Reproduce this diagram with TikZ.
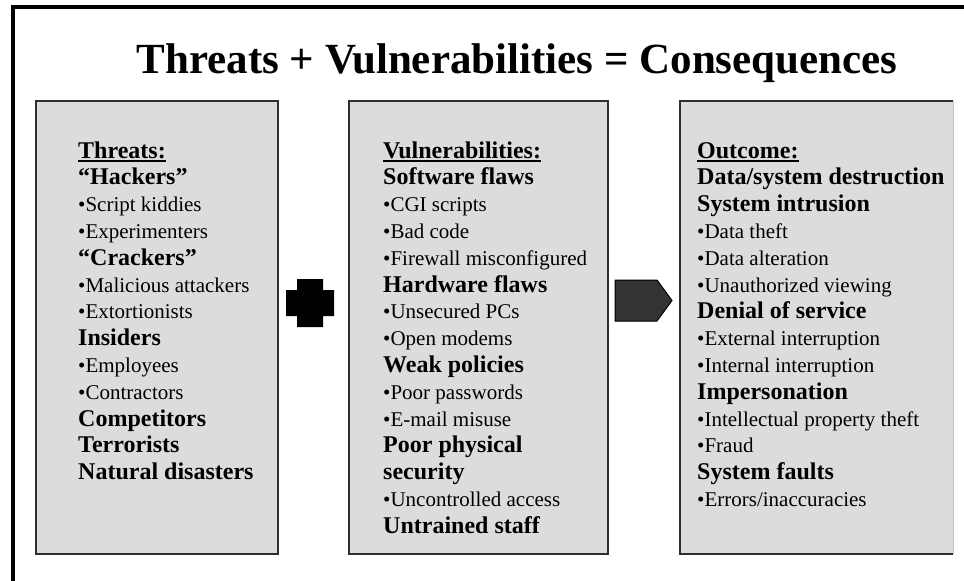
\documentclass[tikz,border=0pt]{standalone}
\usepackage{fontspec}
\setmainfont{Liberation Serif}
\definecolor{panelgray}{HTML}{DCDCDC}
\definecolor{borderdark}{HTML}{2E2E2E}
\definecolor{arrowfill}{HTML}{333333}
\begin{document}
\begin{tikzpicture}[x=1pt,y=-1pt,
  panel/.style={fill=panelgray, draw=borderdark, line width=2pt, inner sep=0pt, outer sep=0pt, anchor=north west},
  hd/.style={anchor=base west, inner sep=0pt, font=\fontsize{24}{26}\selectfont\bfseries},
  it/.style={anchor=base west, inner sep=0pt, font=\fontsize{21}{24}\selectfont},
  uline/.style={line width=2pt, black},
  titlefont/.style={anchor=base, inner sep=0pt, font=\fontsize{43}{50}\selectfont\bfseries}]
\useasboundingbox (0,0) rectangle (964,581);
\fill[white] (0,0) rectangle (964,581);
% outer frame (top and left only)
\draw[line width=4pt, black, line join=miter] (964,7) -- (12.7,7) -- (12.7,581);
% title
\node[titlefont] (title) at (517,73) {Threats + Vulnerabilities = Consequences};
% panels
\node[panel, minimum width=242pt, minimum height=453pt] (p1) at (36,101) {};
\node[panel, minimum width=259pt, minimum height=453pt] (p2) at (349,101) {};
\node[panel, draw=none, minimum width=273pt, minimum height=453pt] (p3) at (680,101) {};
\draw[borderdark, line width=2pt] (p3.north east) -- (p3.north west) -- (p3.south west) -- (p3.south east);
\draw[gray!45, line width=1pt] (p3.north east) -- (p3.south east);
% plus sign
\fill[black] (286,290) -- (297,290) -- (297,279) -- (323,279) -- (323,290) -- (334,290)
  -- (334,316) -- (323,316) -- (323,327) -- (297,327) -- (297,316) -- (286,316) -- cycle;
% pentagon arrow
\draw[fill=arrowfill, draw=black, line width=1pt] (615,280) -- (657,280) -- (672,300.5) -- (657,321) -- (615,321) -- cycle;
% column 1
\node[hd] (a1) at (78,158) {Threats:};
\draw[uline] ([yshift=-2.5pt]a1.base west) -- ([yshift=-2.5pt]a1.base east);
\node[hd] (a2) at (78,184.8) {“Hackers”};
\node[it] (a3) at (78,211.6) {•Script kiddies};
\node[it] (a4) at (78,238.4) {•Experimenters};
\node[hd] (a5) at (78,265.2) {“Crackers”};
\node[it] (a6) at (78,292) {•Malicious attackers};
\node[it] (a7) at (78,318.8) {•Extortionists};
\node[hd] (a8) at (78,345.6) {Insiders};
\node[it] (a9) at (78,372.4) {•Employees};
\node[it] (a10) at (78,399.2) {•Contractors};
\node[hd] (a11) at (78,426) {Competitors};
\node[hd] (a12) at (78,452.8) {Terrorists};
\node[hd] (a13) at (78,479.6) {Natural disasters};
% column 2
\node[hd] (b1) at (383,158) {Vulnerabilities:};
\draw[uline] ([yshift=-2.5pt]b1.base west) -- ([yshift=-2.5pt]b1.base east);
\node[hd] (b2) at (383,184.8) {Software flaws};
\node[it] (b3) at (383,211.6) {•CGI scripts};
\node[it] (b4) at (383,238.4) {•Bad code};
\node[it] (b5) at (383,265.2) {•Firewall misconfigured};
\node[hd] (b6) at (383,292) {Hardware flaws};
\node[it] (b7) at (383,318.8) {•Unsecured PCs};
\node[it] (b8) at (383,345.6) {•Open modems};
\node[hd] (b9) at (383,372.4) {Weak policies};
\node[it] (b10) at (383,399.2) {•Poor passwords};
\node[it] (b11) at (383,426) {•E-mail misuse};
\node[hd] (b12) at (383,452.8) {Poor physical};
\node[hd] (b13) at (383,479.6) {security};
\node[it] (b14) at (383,506.4) {•Uncontrolled access};
\node[hd] (b15) at (383,533.2) {Untrained staff};
% column 3
\node[hd] (c1) at (697,158) {Outcome:};
\draw[uline] ([yshift=-2.5pt]c1.base west) -- ([yshift=-2.5pt]c1.base east);
\node[hd] (c2) at (697,184.8) {Data/system destruction};
\node[hd] (c3) at (697,211.6) {System intrusion};
\node[it] (c4) at (697,238.4) {•Data theft};
\node[it] (c5) at (697,265.2) {•Data alteration};
\node[it] (c6) at (697,292) {•Unauthorized viewing};
\node[hd] (c7) at (697,318.8) {Denial of service};
\node[it] (c8) at (697,345.6) {•External interruption};
\node[it] (c9) at (697,372.4) {•Internal interruption};
\node[hd] (c10) at (697,399.2) {Impersonation};
\node[it] (c11) at (697,426) {•Intellectual property theft};
\node[it] (c12) at (697,452.8) {•Fraud};
\node[hd] (c13) at (697,479.6) {System faults};
\node[it] (c14) at (697,506.4) {•Errors/inaccuracies};
\end{tikzpicture}
\end{document}
